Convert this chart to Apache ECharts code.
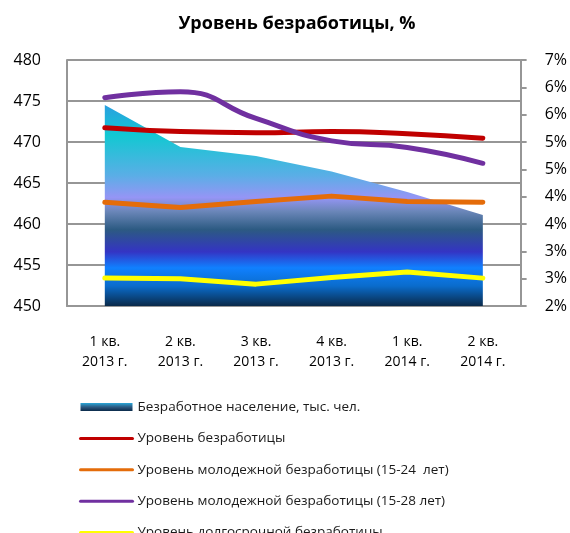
<!DOCTYPE html>
<html>
<head>
<meta charset="utf-8">
<title>Уровень безработицы</title>
<script src="https://cdn.jsdelivr.net/npm/echarts@6/dist/echarts.min.js"></script>
<style>
  html, body { margin: 0; padding: 0; background: #fff; }
  #chart { width: 570px; height: 533px; }
</style>
</head>
<body>
<div id="chart"></div>
<script>
// quarters
const categories = ['1 кв.\n2013 г.', '2 кв.\n2013 г.', '3 кв.\n2013 г.', '4 кв.\n2013 г.', '1 кв.\n2014 г.', '2 кв.\n2014 г.'];

// thousand people (left axis)
const unemployed = [474.5, 469.4, 468.3, 466.4, 463.9, 461.1];

// percent (right axis)
const rateTotal = [5.26, 5.19, 5.17, 5.19, 5.15, 5.07];
const rateYouth1524 = [3.90, 3.80, 3.91, 4.01, 3.91, 3.90];
const rateYouth1528 = [5.81, 5.92, 5.43, 5.02, 4.90, 4.61];
const rateLongTerm = [2.51, 2.50, 2.40, 2.52, 2.62, 2.51];

const names = [
  'Безработное население, тыс. чел.',
  'Уровень безработицы',
  'Уровень молодежной безработицы (15-24  лет)',
  'Уровень молодежной безработицы (15-28 лет)',
  'Уровень долгосрочной безработицы'
];

const FONT = 'Open Sans';
const GRID = '#969696';

const oceanFill = new echarts.graphic.LinearGradient(0, 0, 0, 1, [
  { offset: 0, color: '#2a9fe0' },
  { offset: 0.15, color: '#12c8d2' },
  { offset: 0.35, color: '#5aaee6' },
  { offset: 0.46, color: '#9595f5' },
  { offset: 0.53, color: '#6a86b8' },
  { offset: 0.62, color: '#2c5a82' },
  { offset: 0.73, color: '#3434c4' },
  { offset: 0.81, color: '#1080ff' },
  { offset: 0.9, color: '#0a6ccc' },
  { offset: 1, color: '#0a2a4a' }
]);

const legendFill = new echarts.graphic.LinearGradient(0, 0, 0, 1, [
  { offset: 0, color: '#2aa6d8' },
  { offset: 0.5, color: '#2c5a82' },
  { offset: 1, color: '#0a2a4a' }
]);

function rateLine(name, data, color, smooth) {
  return {
    name: name,
    type: 'line',
    yAxisIndex: 1,
    data: data,
    smooth: smooth,
    symbol: 'none',
    itemStyle: { color: color },
    lineStyle: { color: color, width: 5, cap: 'round', join: 'round' }
  };
}

const chart = echarts.init(document.getElementById('chart'), null, { renderer: 'canvas' });

chart.setOption({
  animation: false,
  backgroundColor: '#fff',
  textStyle: { fontFamily: FONT },
  title: {
    text: 'Уровень безработицы, %',
    left: 292,
    textAlign: 'center',
    top: 10,
    textStyle: { fontFamily: FONT, fontSize: 18, fontWeight: 'bold', color: '#000' }
  },
  grid: { left: 67, right: 47, top: 60, bottom: 227, containLabel: false },
  legend: {
    orient: 'vertical',
    left: 74,
    top: 394,
    height: 220,
    itemWidth: 52,
    itemHeight: 8,
    itemGap: 15.4,
    itemStyle: { opacity: 0 },
    lineStyle: { width: 3 },
    textStyle: { fontFamily: FONT, fontSize: 13.5, color: '#1a1a1a', lineHeight: 16 },
    data: [
      { name: names[0], icon: 'rect', itemStyle: { color: legendFill, opacity: 1 } },
      names[1], names[2], names[3], names[4]
    ]
  },
  xAxis: {
    type: 'category',
    data: categories,
    boundaryGap: true,
    axisLine: { lineStyle: { color: GRID, width: 2 } },
    axisTick: { show: false },
    axisLabel: { fontFamily: FONT, fontSize: 14, color: '#000', lineHeight: 20, margin: 26, interval: 0 }
  },
  yAxis: [
    {
      type: 'value',
      min: 450,
      max: 480,
      interval: 5,
      axisLine: { show: true, lineStyle: { color: GRID, width: 2 } },
      axisTick: { show: false },
      splitLine: { show: true, lineStyle: { color: GRID, width: 2 } },
      axisLabel: { fontFamily: FONT, fontSize: 16, color: '#000', margin: 26 }
    },
    {
      type: 'value',
      position: 'right',
      min: 2,
      max: 6.5,
      interval: 0.5,
      axisLine: { show: true, lineStyle: { color: GRID, width: 2 } },
      axisTick: { show: true, length: 6, lineStyle: { color: GRID, width: 2 } },
      splitLine: { show: false },
      axisLabel: {
        fontFamily: FONT, fontSize: 16, color: '#000', margin: 24,
        formatter: function (v) { return Math.round(v) + '%'; }
      }
    }
  ],
  series: [
    {
      name: names[0],
      type: 'line',
      yAxisIndex: 0,
      data: unemployed,
      symbol: 'none',
      itemStyle: { color: legendFill },
      lineStyle: { width: 0 },
      areaStyle: { origin: 'start', color: oceanFill, opacity: 1 }
    },
    rateLine(names[1], rateTotal, '#c00000', true),
    rateLine(names[2], rateYouth1524, '#e46c0a', false),
    rateLine(names[3], rateYouth1528, '#7030a0', true),
    rateLine(names[4], rateLongTerm, '#ffff00', false)
  ]
});
</script>
</body>
</html>
